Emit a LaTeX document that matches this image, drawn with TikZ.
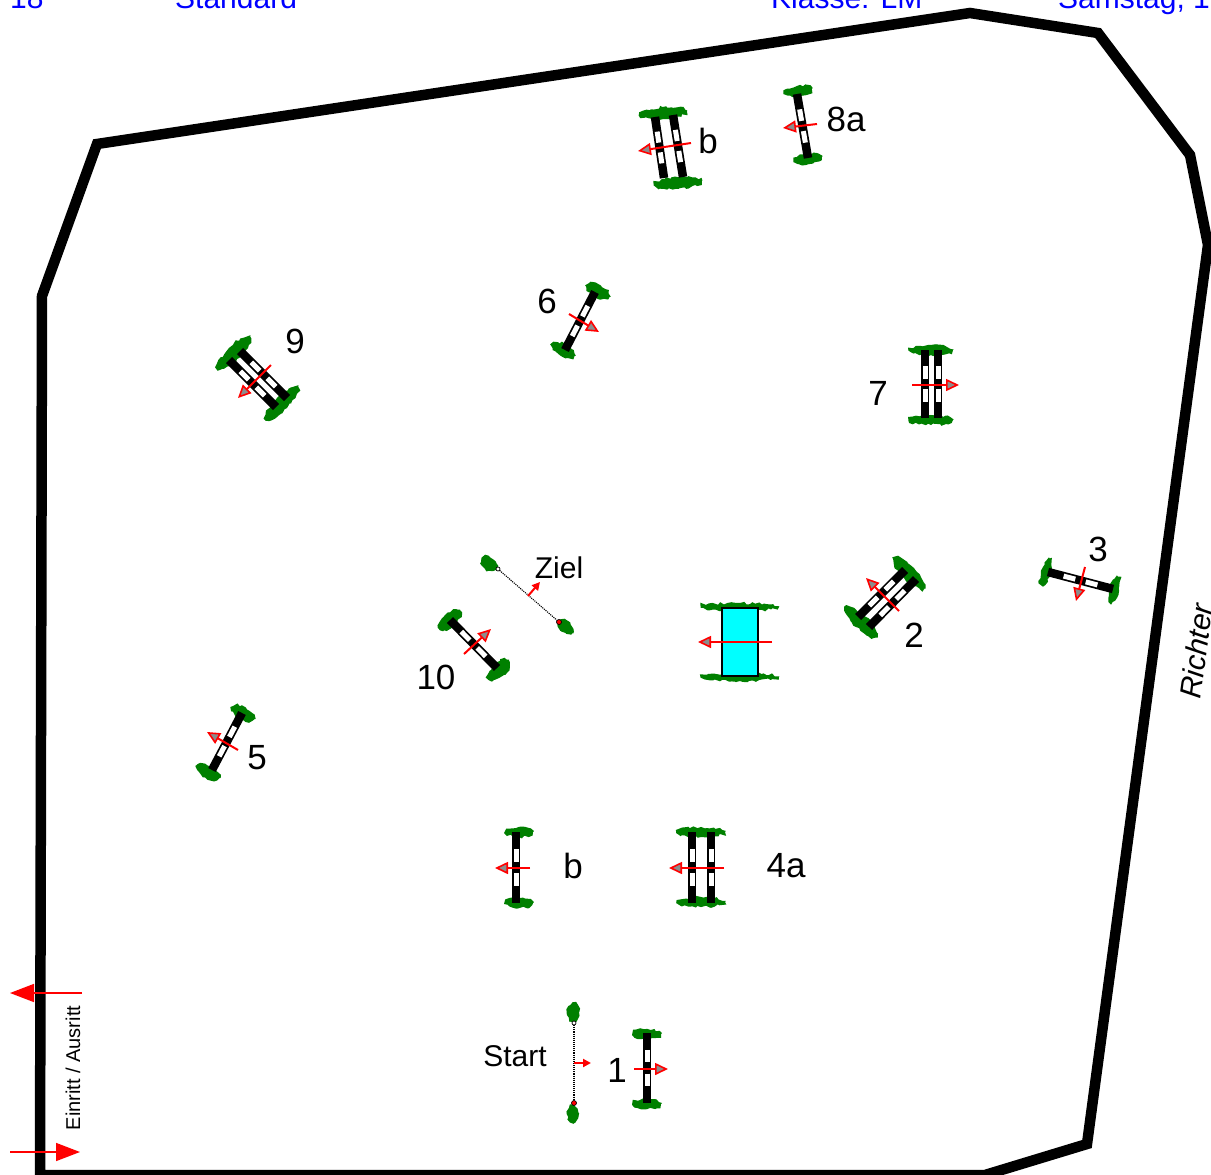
\documentclass[tikz,border=0pt]{standalone}
\usepackage{fontspec}
\setmainfont{Liberation Sans}
\usepackage{xcolor}
\usetikzlibrary{arrows.meta, calc, decorations.pathmorphing}

\definecolor{bushgreen}{RGB}{0,128,0}
\definecolor{watercyan}{RGB}{0,255,255}
\tikzset{
    arena/.style={line width=10.5pt, line join=miter},
    polebar/.style={line width=8.5pt, black},
    poleslot/.style={line width=5pt, white},
    bushblob/.style={fill=bushgreen, decorate, decoration={random steps, segment length=3pt, amplitude=1.4pt}},
    course/.style={red, line width=2pt, -{Triangle[length=13pt, width=12pt, fill=gray!90, line width=1.6pt]}},
    thinline/.style={red, line width=2pt, -{Triangle[length=8pt, width=8pt, fill=red!70!gray]}},
    gate/.style={red, line width=1.6pt, -{Triangle[length=24pt, width=18pt, fill=red]}},
    numlabel/.style={font=\fontsize{35}{35}\selectfont, inner sep=0pt},
    smalllabel/.style={font=\fontsize{30}{30}\selectfont, inner sep=0pt},
    headlabel/.style={font=\fontsize{30}{30}\selectfont, text=blue, inner sep=0pt, anchor=base west},
}

\begin{document}
\begin{tikzpicture}[x=1pt, y=-1pt]
    \useasboundingbox (0,0) rectangle (1211,1175);
    \clip (0,0) rectangle (1211,1175);
    \pgfmathsetseed{11}

    % header line
    \node[headlabel] (nr) at (10,9) {18};
    \node[headlabel] (std) at (175,9) {Standard};
    \node[headlabel] (kl) at (771,9) {Klasse: LM};
    \node[headlabel] (day) at (1058,9) {Samstag, 1};

    % arena
    \draw[arena] (40,1175) -- (42,296) -- (97,144) -- (970,13) -- (1098,33) -- (1190,155)
        -- (1208,245) -- (1087,1144) -- (985,1175) -- cycle;

    % bushes: x/y/angle/half width/half height
    \foreach \bx/\by/\ba/\bw/\bh in {
        647/1034/0/14/5, 647/1104/0/14/5,
        573/1012/0/6/9, 573/1114/0/6/9,
        519/832/0/14/5, 519/903/0/14/5,
        701/832/0/24/5, 701/902/0/24/5,
        243/713/-28/13/6, 208/772/-28/13/6,
        450/620/45/14/7, 499/670/45/14/7,
        489/564/-42/9/6, 566/627/-42/9/6,
        740/607/0/39/4, 740/677/0/39/4,
        909/573/-45/22/7, 861/622/-45/22/7,
        1046/572/75/14/5, 1114/590/75/14/5,
        931/350/0/22/5, 931/420/0/22/5,
        598/291/-27/13/6, 563/350/-27/13/6,
        234/353/45/23/7, 282/403/45/23/7,
        798/91/8/14/5, 808/159/8/14/5,
        663/113/5/24/6, 678/183/5/24/6}
    {
        \fill[bushblob, rotate around={\ba:(\bx,\by)}] (\bx,\by) ellipse ({\bw} and {\bh});
    }

    % poles
    \foreach \pn/\xa/\ya/\xb/\yb in {
        one/647/1033/647/1103,
        twoa/905/570/858/617, twob/916/579/869/627,
        three/1048/572/1113/589,
        foura/692/832/692/903, fourb/711/832/711/903,
        five/242/713/212/770,
        six/595/292/565/350,
        sevena/925/350/925/418, sevenb/938/350/938/418,
        eight/797/94/808/158,
        bupa/655/117/664/178, bupb/673/115/683/177,
        nina/240/351/287/398, ninb/229/360/276/407,
        ten/450/620/497/668,
        blow/516/832/516/903}
    {
        \coordinate (\pn s) at (\xa,\ya);
        \coordinate (\pn e) at (\xb,\yb);
        \draw[polebar] (\pn s) -- (\pn e);
        \draw[poleslot] ($(\pn s)!.24!(\pn e)$) -- ($(\pn s)!.42!(\pn e)$);
        \draw[poleslot] ($(\pn s)!.58!(\pn e)$) -- ($(\pn s)!.76!(\pn e)$);
    }

    % water
    \node[draw=black, line width=2pt, fill=watercyan, minimum width=36pt, minimum height=68pt, inner sep=0pt] (water) at (740,642) {};

    % start and finish lines
    \coordinate (starta) at (574,1023);
    \coordinate (startb) at (574,1103);
    \coordinate (ziela) at (498,569);
    \coordinate (zielb) at (559,622);
    \draw[densely dotted, line width=1.1pt] (starta) -- (startb);
    \draw[densely dotted, line width=1.1pt] (ziela) -- (zielb);
    \filldraw[fill=white, draw=black, line width=0.7pt] (starta) circle (2pt);
    \filldraw[fill=red, draw=black, line width=0.7pt] (startb) circle (2.5pt);
    \filldraw[fill=white, draw=black, line width=0.7pt] (ziela) circle (2pt);
    \filldraw[fill=red, draw=black, line width=0.7pt] (zielb) circle (2.5pt);

    % direction of riding
    \foreach \an/\xa/\ya/\xb/\yb in {
        aone/634/1069/668/1069,
        awater/772/642/698/642,
        atwo/899/611/866/578,
        athree/1085/567/1076/601,
        afour/724/868/669/868,
        ablow/530/868/495/868,
        afive/238/750/207/732,
        asix/569/314/599/332,
        aseven/912/385/959/385,
        aeight/817/124/783/128,
        abup/691/143/638/151,
        anine/271/365/238/398,
        aten/464/654/491/629}
    {
        \coordinate (\an s) at (\xa,\ya);
        \coordinate (\an e) at (\xb,\yb);
        \draw[course] (\an s) -- (\an e);
    }
    \coordinate (astarts) at (574,1063);
    \coordinate (astarte) at (591,1063);
    \coordinate (aziels) at (528,596);
    \coordinate (aziele) at (540,582);
    \draw[thinline] (astarts) -- (astarte);
    \draw[thinline] (aziels) -- (aziele);

    % way in and out
    \coordinate (gateouts) at (82,993);
    \coordinate (gateoute) at (10,993);
    \coordinate (gateins) at (10,1152);
    \coordinate (gateine) at (80,1152);
    \draw[gate] (gateouts) -- (gateoute);
    \draw[gate] (gateins) -- (gateine);

    % labels
    \node[numlabel] (lone) at (617,1070) {1};
    \node[numlabel] (ltwo) at (914,635) {2};
    \node[numlabel] (lthree) at (1098,549) {3};
    \node[numlabel] (lfour) at (786,866) {4a};
    \node[numlabel] (lblow) at (573,866) {b};
    \node[numlabel] (lfive) at (257,758) {5};
    \node[numlabel] (lsix) at (547,301) {6};
    \node[numlabel] (lseven) at (878,393) {7};
    \node[numlabel] (leight) at (846,119) {8a};
    \node[numlabel] (lbup) at (708,141) {b};
    \node[numlabel] (lnine) at (295,341) {9};
    \node[numlabel] (lten) at (436,677) {10};
    \node[smalllabel] (lstart) at (515,1056) {Start};
    \node[smalllabel] (lziel) at (559,568) {Ziel};
    \node[smalllabel, rotate=82.3] (lrichter) at (1196,651) {\itshape Richter};
    \node[font=\fontsize{20}{20}\selectfont, inner sep=0pt, rotate=90] (lgate) at (73,1068) {Einritt / Ausritt};
\end{tikzpicture}
\end{document}
